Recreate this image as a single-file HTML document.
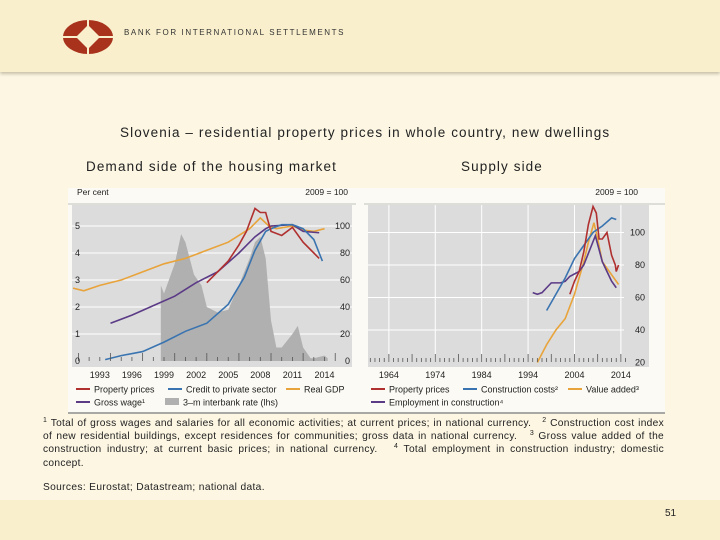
<!DOCTYPE html>
<html><head><meta charset="utf-8">
<style>
body{margin:0;width:720px;height:540px;overflow:hidden;background:#fcf6e3;font-family:"Liberation Sans",sans-serif;position:relative}
.hdr{position:absolute;left:0;top:0;width:720px;height:72px;background:#f9efcc;box-shadow:0 2px 3px #c8c0a8}
.ftr{position:absolute;left:0;top:500px;width:720px;height:40px;background:#f9efcc}
.t{position:absolute;white-space:nowrap;color:#222}
.fn{position:absolute;left:43px;top:417px;width:621px;font-size:10.2px;letter-spacing:0.3px;line-height:13.2px;text-align:justify;color:#222}
.fn sup{font-size:7px;line-height:0;vertical-align:4px}
</style></head><body>
<div class="hdr">
<svg style="position:absolute;left:62px;top:19px" width="52" height="36">
<ellipse cx="26" cy="18" rx="25" ry="17" fill="#a8321c"/>
<path d="M26 6 L38 18 L26 30 L14 18 Z" fill="#f9efcc"/>
<line x1="26" y1="0" x2="26" y2="36" stroke="#f9efcc" stroke-width="2"/>
<line x1="0" y1="18" x2="52" y2="18" stroke="#f9efcc" stroke-width="2"/>
</svg>
<div class="t" style="left:124px;top:28px;font-size:8px;letter-spacing:1.6px;color:#333">BANK FOR INTERNATIONAL SETTLEMENTS</div>
</div>
<div class="t" style="left:120px;top:125px;font-size:13.5px;letter-spacing:1.1px">Slovenia – residential property prices in whole country, new dwellings</div>
<div class="t" style="left:86px;top:159px;font-size:13.5px;letter-spacing:1.15px">Demand side of the housing market</div>
<div class="t" style="left:461px;top:159px;font-size:13.5px;letter-spacing:1.1px">Supply side</div>
<svg id="ch" style="position:absolute;left:0;top:0" width="720" height="540"></svg>
<div class="fn"><sup>1</sup> Total of gross wages and salaries for all economic activities; at current prices; in national currency. &nbsp; <sup>2</sup> Construction cost index of new residential buildings, except residences for communities; gross data in national currency. &nbsp; <sup>3</sup> Gross value added of the construction industry; at current basic prices; in national currency. &nbsp; <sup>4</sup> Total employment in construction industry; domestic concept.</div>
<div class="t" style="left:43px;top:482px;font-size:10.2px;letter-spacing:0.35px">Sources: Eurostat; Datastream; national data.</div>
<div class="ftr"><div class="t" style="left:665px;top:8px;font-size:10px">51</div></div>
<script>
// Left panel data
const gdpYears=[1990.5,1991.5,1993,1995,1997,1999,2001,2003,2005,2007,2008,2008.8,2009.5,2011,2012,2013,2014];
const gdpVals=[54,52,56,60,66,72,76,82,88,98,106,100,98,100,97,96,98];
const wageYears=[1994,1996,1998,2000,2002,2004,2006,2007.5,2008.5,2009,2011,2012,2013.5];
const wageVals=[28,34,41,48,58,66,80,92,98,100,101,96,95];
const creditYears=[1993.5,1995,1997,1999,2001,2003,2005,2006.5,2007.5,2008.5,2009,2010,2011,2012,2013,2013.8];
const creditVals=[1,4,7,14,22,28,42,62,82,96,98,101,101,98,90,74];
const propLYears=[2003,2004,2005,2006,2006.7,2007.5,2008,2008.5,2009,2010,2011,2012,2013,2013.5];
const propLVals=[58,66,74,86,96,113,110,110,96,93,99,88,80,76];
const rateYears=[1998.7,1999,2000,2000.6,2001,2001.8,2002.5,2003,2004,2005,2006,2007,2007.5,2008,2008.5,2009,2009.5,2010,2011,2011.5,2012,2012.7,2013,2014,2014.3];
const rateVals=[2.8,2.5,3.6,4.7,4.4,3.2,2.8,2.0,1.8,1.9,2.8,3.8,4.4,4.6,3.8,1.5,0.5,0.5,1.0,1.3,0.5,0.1,0.1,0.2,0.1];
const leftXTicks=[1993,1996,1999,2002,2005,2008,2011,2014];
const leftLTicks=[0,1,2,3,4,5];
const leftRTicks=[0,20,40,60,80,100];
// Right panel data
const empYears=[1995,1996,1997,1998,1999,2000,2001,2002,2003,2005,2006,2008.5,2010,2011,2012,2013];
const empVals=[63,62,63,66,69,69,69,70,73,76,80,98,82,76,70,66];
const costYears=[1998,2000,2002,2004,2006,2008,2010,2012,2013];
const costVals=[52,62,72,84,92,100,104,109,108];
const vaYears=[1996,1998,2000,2002,2004,2006,2007,2008.2,2009,2010,2012,2013.5];
const vaVals=[20,31,40,47,62,82,94,106,96,82,74,68];
const propRYears=[2003,2004,2005,2006,2007,2008,2008.7,2009.3,2010,2011,2012,2012.8,2013,2013.5];
const propRVals=[62,70,76,88,105,116,112,96,96,100,86,80,76,80];
const rightXTicks=[1964,1974,1984,1994,2004,2014];
const rightYTicks=[20,40,60,80,100];

const svg=document.getElementById('ch');
const NS='http://www.w3.org/2000/svg';
function el(tag,attrs,name,parent){const e=document.createElementNS(NS,tag);for(const k in attrs)e.setAttribute(k,attrs[k]);


(parent||svg).appendChild(e);return e;}
function txt(x,y,s,name,anchor,size){const t=el('text',{x:x,y:y,'font-size':size||9,'font-family':'Liberation Sans, sans-serif','text-anchor':anchor||'start',fill:'#222'},name);t.textContent=s;return t;}

el('rect',{x:68,y:188,width:597,height:226,fill:'#fbfaf4'},'chart-box');
el('line',{x1:68,y1:413,x2:665,y2:413,stroke:'#555','stroke-width':1},'chart-bottom-rule');

// LEFT
const Lx=y=>72+(y-1990.4)*10.7;
const LyL=v=>361-v*27;
const LyR=v=>361-v*1.35;
el('rect',{x:72,y:205,width:280,height:162,fill:'#dcdcdc'},'left-plot-area');
leftRTicks.forEach(v=>{if(v>0)el('line',{x1:72,x2:352,y1:LyR(v),y2:LyR(v),stroke:'#fff','stroke-width':1},'left-gridline');});
let d='M'+Lx(rateYears[0])+','+LyL(0);
rateYears.forEach((y,i)=>d+=' L'+Lx(y)+','+LyL(rateVals[i]));
d+=' L'+Lx(rateYears[rateYears.length-1])+','+LyL(0)+'Z';
el('path',{d:d,fill:'#b0b0b0'},'interbank-rate-area');
function line(xs,vs,fx,fy,col,name){el('polyline',{points:xs.map((y,i)=>fx(y)+','+fy(vs[i])).join(' '),fill:'none',stroke:col,'stroke-width':1.6},name);}
line(gdpYears,gdpVals,Lx,LyR,'#e8a33a','real-gdp-line');
line(wageYears,wageVals,Lx,LyR,'#5b3a86','gross-wage-line');
line(creditYears,creditVals,Lx,LyR,'#3a74b0','credit-line');
line(propLYears,propLVals,Lx,LyR,'#b03030','property-prices-left-line');
for(let y=1991;y<=2015;y++)el('line',{x1:Lx(y),x2:Lx(y),y1:361,y2:y%3==2?353:357,stroke:'#555','stroke-width':0.8},'left-x-tick');
leftXTicks.forEach(y=>txt(Lx(y),378,y,'left-x-label','middle'));
leftLTicks.forEach(v=>txt(75,LyL(v)+3,v,'left-y-label'));
leftRTicks.forEach(v=>txt(350,LyR(v)+3,v,'right-y-label','end'));
txt(77,195,'Per cent','left-axis-unit','start',8.5);
txt(348,195,'2009 = 100','left-right-axis-unit','end',8.5);
el('line',{x1:68,x2:356,y1:204,y2:204,stroke:'#888','stroke-width':0.6},'left-top-rule');

// RIGHT
const Rx=y=>368+(y-1959.5)*4.64;
const Ry=v=>362.5-(v-20)*1.625;
el('rect',{x:368,y:205,width:281,height:162,fill:'#dcdcdc'},'right-plot-area');
rightXTicks.forEach(y=>el('line',{x1:Rx(y),x2:Rx(y),y1:205,y2:362,stroke:'#fff','stroke-width':1},'right-v-gridline'));
rightYTicks.forEach(v=>{if(v>20)el('line',{x1:368,x2:624,y1:Ry(v),y2:Ry(v),stroke:'#fff','stroke-width':1},'right-gridline');});
line(vaYears,vaVals,Rx,Ry,'#e8a33a','value-added-line');
line(empYears,empVals,Rx,Ry,'#5b3a86','employment-line');
line(costYears,costVals,Rx,Ry,'#3a74b0','construction-costs-line');
line(propRYears,propRVals,Rx,Ry,'#b03030','property-prices-right-line');
for(let y=1960;y<=2015;y++)el('line',{x1:Rx(y),x2:Rx(y),y1:362,y2:y%5==4?354:358,stroke:'#555','stroke-width':0.8},'right-x-tick');
rightXTicks.forEach(y=>txt(Rx(y),378,y,'right-x-label','middle'));
rightYTicks.forEach(v=>txt(645,Ry(v)+3,v,'right-y-label','end'));
txt(638,195,'2009 = 100','right-axis-unit','end',8.5);
el('line',{x1:364,x2:665,y1:204,y2:204,stroke:'#888','stroke-width':0.6},'right-top-rule');

function leg(x,y,col,label,name,area){if(area)el('rect',{x:x,y:y-5,width:14,height:7,fill:'#b0b0b0'},name+'-swatch');else el('line',{x1:x,x2:x+14,y1:y-1,y2:y-1,stroke:col,'stroke-width':2},name+'-swatch');txt(x+18,y+2.5,label,name,'start',9);}
leg(76,390,'#b03030','Property prices','legend-property-prices');
leg(168,390,'#3a74b0','Credit to private sector','legend-credit');
leg(286,390,'#e8a33a','Real GDP','legend-real-gdp');
leg(76,403,'#5b3a86','Gross wage¹','legend-gross-wage');
leg(165,403,'','3–m interbank rate (lhs)','legend-interbank',true);
leg(371,390,'#b03030','Property prices','legend-property-prices-right');
leg(463,390,'#3a74b0','Construction costs²','legend-construction-costs');
leg(568,390,'#e8a33a','Value added³','legend-value-added');
leg(371,403,'#5b3a86','Employment in construction⁴','legend-employment');
</script>
</body></html>
